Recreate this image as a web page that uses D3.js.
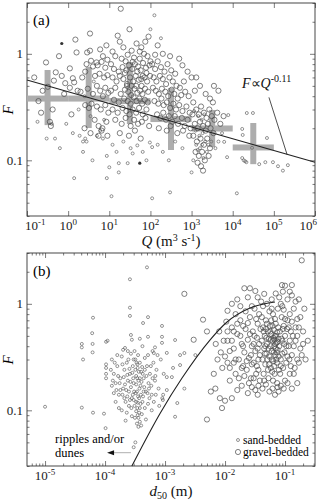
<!DOCTYPE html>
<html>
<head>
<meta charset="utf-8">
<script src="https://cdn.jsdelivr.net/npm/d3@7"></script>
<style>
body { margin: 0; background: #fff; }
svg { display: block; font-family: "Liberation Serif", "Times New Roman", serif; }
</style>
</head>
<body>
<script>
// ---- panel (a) data: [Q (m3/s), F] ----
const gravelA = [
  [0.29,0.83],[0.19,0.36],[0.32,0.49],[0.36,0.23],[0.38,0.21],[0.5,0.67],[0.15,0.6],[0.24,0.45],[0.45,0.56],[0.7,0.62],[0.8,0.42],[0.42,0.3],[0.6,0.95],[0.22,0.28],
  [1.5,1.36],[3.4,1.55],[1.6,1.03],[2.9,1.03],[3.4,1.07],[1.1,0.73],[4,0.76],[4.9,0.83],[1.3,0.59],[1.4,0.54],[0.85,0.53],[1.1,0.48],[1.7,0.45],[2.0,0.44],[2.6,0.33],[3.2,0.31],[3.7,0.34],[2.8,0.8],[3.6,0.86],[5.2,0.78],[6.5,0.84],[8,0.74],[9,0.88],[4.4,0.24],[5.5,0.21],[6.8,0.2],[8.5,0.23],[3,0.47],[4,0.42],[5,0.5],[6,0.45],[7,0.4],[8,0.48],[9.5,0.43],[2.2,0.6],[2.6,0.68],[4.5,0.62],[5.8,0.65],[7.5,0.6],[9,0.63],[6,1.1],[8.5,1.2],[7,0.95],[5,0.32],[6.2,0.3],[8,0.33],[9.5,0.28],[2.5,0.2],[3.5,0.18],[1.2,0.27],[5.5,0.17],[6.5,0.19],[9,0.17],
  [16,1.48],[18,1.3],[31,1.7],[46,1.25],[35,1.07],[19,2.65],[12,1.05],[14,0.95],[20,0.9],[25,0.85],[28,0.98],[40,0.92],[55,0.9],[70,1.0],[85,0.95],[60,1.15],[75,1.3],[90,1.45],[22,1.15],[11,0.8],[13,0.72],[17,0.68],[21,0.75],[26,0.7],[30,0.78],[36,0.72],[42,0.8],[50,0.76],[58,0.7],[66,0.82],[78,0.74],[95,0.78],[12,0.6],[15,0.55],[18,0.62],[22,0.58],[27,0.52],[32,0.6],[38,0.55],[44,0.62],[52,0.57],[61,0.5],[72,0.6],[83,0.55],[98,0.62],[11,0.45],[14,0.48],[19,0.42],[24,0.46],[29,0.44],[34,0.41],[41,0.47],[48,0.43],[56,0.45],[64,0.42],[74,0.47],[88,0.44],[13,0.37],[17,0.35],[23,0.38],[28,0.36],[33,0.34],[39,0.39],[46,0.36],[54,0.38],[63,0.34],[73,0.37],[86,0.35],[12,0.3],[16,0.28],[21,0.31],[26,0.29],[31,0.27],[37,0.3],[45,0.28],[53,0.31],[65,0.27],[80,0.3],[14,0.24],[20,0.22],[25,0.25],[33,0.21],[40,0.24],[50,0.22],[62,0.23],[76,0.25],[93,0.21],[18,0.18],[30,0.17],[42,0.19],[58,0.16],[27,0.5],[35,0.5],[45,0.5],[60,0.58],[24,0.66],[48,0.68],[80,0.66],[65,0.62],[37,0.84],[55,1.05],[100,0.85],
  [110,0.8],[130,0.72],[150,0.85],[180,0.75],[220,0.68],[260,0.8],[320,0.7],[400,0.65],[120,0.6],[140,0.55],[170,0.62],[200,0.58],[240,0.52],[290,0.6],[350,0.55],[430,0.5],[520,0.48],[650,0.55],[115,0.48],[135,0.45],[160,0.42],[190,0.47],[230,0.44],[270,0.4],[330,0.46],[380,0.42],[460,0.38],[560,0.41],[700,0.44],[850,0.4],[125,0.36],[155,0.34],[185,0.38],[210,0.33],[250,0.35],[300,0.31],[360,0.34],[420,0.3],[500,0.33],[600,0.29],[750,0.32],[900,0.28],[145,0.27],[175,0.25],[205,0.28],[240,0.24],[280,0.26],[340,0.23],[390,0.26],[470,0.22],[580,0.25],[680,0.21],[800,0.24],[950,0.2],[160,0.2],[250,0.19],[310,0.21],[450,0.18],[620,0.19],[880,0.17],[200,1.0],[300,0.95],[500,0.9],[150,1.2],[600,0.78],[800,0.68],[1000,0.6],[130,0.98],
  [1100,0.35],[1300,0.3],[1500,0.27],[1700,0.32],[2000,0.28],[2300,0.25],[2700,0.3],[3100,0.26],[1200,0.22],[1400,0.2],[1600,0.23],[1900,0.21],[2200,0.19],[2500,0.22],[2900,0.2],[3400,0.18],[1100,0.17],[1350,0.15],[1650,0.16],[2000,0.14],[2400,0.16],[2800,0.13],[1250,0.12],[1500,0.11],[1800,0.12],[2100,0.1],[1700,0.088],[1400,0.095],[1900,0.08],[2600,0.11],[3600,0.24],[4200,0.28],[5000,0.22],[6000,0.26],[4500,0.45],[3500,0.5],[1200,0.45],[1600,0.5],[2200,0.42],[1300,0.6],[2800,0.38],[1050,0.27],[3300,0.35]
];
const sandA = [
  [0.3,0.16],[0.48,0.16],[0.18,0.23],[0.63,0.13],[0.4,0.22],[1.4,0.068],[1.3,0.18],[1.9,0.17],[2.3,0.15],[2.6,0.16],[2.8,0.15],[3.9,0.1],[2.3,0.12],[5,0.17],[6,0.19],[7,0.16],[8.7,0.11],[8.7,0.068],[10,0.086],[11.3,0.046],[17,0.094],[17,0.077],[28,0.094],[37,0.116],[48,0.138],[110,0.044],[97,0.147],[110,0.133],[125,2.3],[100,1.7],[0.9,0.22],[1.8,0.3],[3.5,0.26],[7.5,0.24],[12,0.14],[15,0.12],[22,0.15],[33,0.13],[65,0.12],[80,0.1],[150,0.14],[200,0.12],[400,0.15],[600,0.13],[280,0.1],[180,1.4],[2.5,0.4],[4.2,0.55],
  [1150,0.29],[1450,0.26],[1750,0.24],[2050,0.27],[1250,0.19],[1550,0.17],[1850,0.18],[2150,0.15],[2550,0.14],[1300,0.14],[1600,0.13],[1950,0.105],[2350,0.12],[1100,0.1],[1400,0.125],[1800,0.14],[3000,0.15],[3800,0.13],[4500,0.15],[5500,0.18],[1000,0.077],
  [7800,0.266],[22000,0.278],[31000,0.278],[17000,0.197],[17500,0.173],[68000,0.162],[6200,0.149],[7300,0.107],[17000,0.105],[18500,0.1],[20000,0.098],[21500,0.096],[44000,0.092],[62000,0.096],[95000,0.096],[126000,0.088],[166000,0.08],[219000,0.09],[29500,0.131],[12600,0.049],[300,0.05]
];
const darkA = [[0.7,1.25],[55,0.094]];

// binned means (grey crosses)
const binLo = [0.1, 1, 10, 100, 1000, 10000];
const binHi = [1, 10, 100, 1000, 10000, 100000];
const binF = [0.38, 0.38, 0.36, 0.244, 0.199, 0.132];
const binFlo = [0.214, 0.201, 0.219, 0.125, 0.133, 0.092];
const binFhi = [0.705, 0.752, 0.838, 0.477, 0.297, 0.224];

// power-law fit F ~ Q^-0.11
const fitQ = [0.1, 1e6];
const fitF = [0.568, 0.096];
const leaderQ = [7.6e4, 2.1e5];
const leaderF = [0.39, 0.113];

// ---- panel (b) data: [d50 (m), F] ----
const sandB = [
  [1e-5,0.108],[4.1e-5,0.106],[6.3e-5,0.095],[9.6e-5,0.093],[1.02e-4,0.068],[6.3e-5,0.74],[6.1e-5,0.53],[4.1e-5,0.42],[4.1e-5,0.39],[4.3e-5,0.30],[6.2e-5,0.42],[6.2e-5,0.35],[1.04e-4,0.44],[1.1e-4,0.45],[1.04e-4,0.27],[1.04e-4,0.25],[1.04e-4,0.22],[1.04e-4,0.2],[2.6e-4,1.7],[5e-4,2.2],[2.6e-4,0.92],[2.6e-4,0.77],[2.15e-4,0.385],[2.7e-4,0.51],[2.8e-4,0.46],[3.8e-4,0.47],[4.3e-4,0.66],[5.2e-4,0.75],[6.8e-4,0.39],[6.5e-4,0.345],[5.2e-4,0.49],[3.2e-4,0.05],[3.0e-4,0.045],
  [1.3e-4,0.3],[1.4e-4,0.22],[1.5e-4,0.18],[1.6e-4,0.26],[1.7e-4,0.14],[1.8e-4,0.2],[1.9e-4,0.32],[2.0e-4,0.16],[2.1e-4,0.24],[2.2e-4,0.12],[2.3e-4,0.28],[2.4e-4,0.19],[2.5e-4,0.15],[2.6e-4,0.22],[2.7e-4,0.34],[2.8e-4,0.13],[2.9e-4,0.26],[3.0e-4,0.18],[3.1e-4,0.11],[3.2e-4,0.3],[3.3e-4,0.21],[3.4e-4,0.15],[3.5e-4,0.25],[3.6e-4,0.19],[3.7e-4,0.13],[3.8e-4,0.28],[3.9e-4,0.17],[4.0e-4,0.23],[4.2e-4,0.12],[4.4e-4,0.2],[4.6e-4,0.31],[4.8e-4,0.15],[5.0e-4,0.26],[5.3e-4,0.18],[5.6e-4,0.22],[6.0e-4,0.14],[6.4e-4,0.28],[6.8e-4,0.19],[7.2e-4,0.24],[7.8e-4,0.16],[8.5e-4,0.3],
  [1.5e-4,0.12],[1.9e-4,0.1],[2.3e-4,0.095],[2.8e-4,0.088],[3.3e-4,0.098],[3.6e-4,0.085],[3.8e-4,0.078],[4.1e-4,0.092],[4.6e-4,0.105],[5.2e-4,0.115],[6e-4,0.1],[2.5e-4,0.11],[2.1e-4,0.13],[1.7e-4,0.105],[1.4e-4,0.145],[3.0e-4,0.125],[3.5e-4,0.118],[4.3e-4,0.135],[5.5e-4,0.13],[6.5e-4,0.12],[1.3e-4,0.17],[1.55e-4,0.155],[2.15e-4,0.175],[2.7e-4,0.165],[3.25e-4,0.145],[3.75e-4,0.16],[4.5e-4,0.165],[5.1e-4,0.145],[5.9e-4,0.17],[7.0e-4,0.14],[1.25e-4,0.24],[1.65e-4,0.21],[1.95e-4,0.27],[2.35e-4,0.215],[2.95e-4,0.2],[3.45e-4,0.27],[4.15e-4,0.255],[4.9e-4,0.21],[5.8e-4,0.26],[6.9e-4,0.21],[2.0e-4,0.37],[2.4e-4,0.36],[3.1e-4,0.36],[4.2e-4,0.4],[5.2e-4,0.33],[6.2e-4,0.36],[1.6e-4,0.33],[1.8e-4,0.155],[2.6e-4,0.125],[3.15e-4,0.085],[3.4e-4,0.075],[3.6e-4,0.07],[2.2e-4,0.08],[4.0e-4,0.072],[4.8e-4,0.082],[3.8e-4,0.105],[2.9e-4,0.14],[2.45e-4,0.3],[3.55e-4,0.33],[1.45e-4,0.28],[1.35e-4,0.19],[7.5e-4,0.33],[8e-4,0.11],[9e-4,0.13],[9.5e-4,0.22],
  [2.05e-4,0.205],[2.25e-4,0.155],[2.55e-4,0.245],[2.65e-4,0.185],[2.85e-4,0.225],[3.05e-4,0.15],[3.2e-4,0.24],[3.3e-4,0.175],[3.45e-4,0.2],[3.55e-4,0.135],[3.65e-4,0.23],[3.8e-4,0.2],[3.95e-4,0.14],[4.05e-4,0.185],[4.25e-4,0.22],[4.4e-4,0.15],[3.3e-4,0.12],[3.45e-4,0.105],[3.5e-4,0.09],[3.7e-4,0.095],[3.9e-4,0.115],[2.75e-4,0.105],[2.35e-4,0.135],[1.95e-4,0.14],[1.75e-4,0.18],[3.0e-4,0.3],[3.35e-4,0.28],[4.6e-4,0.24],[5.4e-4,0.16],[6.2e-4,0.2],
  [1.47e-3,0.457],[1.07e-3,0.346],[8.9e-4,0.43],[8.9e-4,0.49],[1.78e-3,0.33],[2.1e-3,0.345],[3.2e-3,0.33],[1.36e-3,0.25],[1.78e-3,0.266],[1.07e-3,0.205],[1.3e-3,0.205],[1.07e-3,0.155],[1.6e-3,0.117],[1.47e-3,0.087],[9.3e-4,0.14],[9.2e-4,0.125],[2.1e-3,0.16],[8.9e-4,0.62]
];
const gravelB = [
  [0.19,2.56],[2.1e-3,1.24],[4.3e-3,0.71],[5e-3,0.55],[3e-3,0.46],[0.011,0.86],[0.013,1.0],[0.021,1.4],[0.026,1.4],[0.032,1.32],[0.089,1.5],[0.1,1.48],[0.13,1.5],[0.092,1.3],[0.04,1.05],[0.045,1.24],[0.05,1.0],[5e-3,0.082],[8.9e-3,0.105],
  [0.010,0.32],[0.011,0.45],[0.012,0.25],[0.013,0.6],[0.014,0.38],[0.015,0.22],[0.016,0.52],[0.017,0.3],[0.018,0.7],[0.019,0.42],[0.012,0.19],[0.015,0.8],[0.02,0.26],[0.011,0.55],[0.017,0.2],[0.014,0.28],[0.0105,0.68],[0.0085,0.35],[0.009,0.25],[0.0075,0.3],[0.0065,0.22],[0.007,0.42],[0.008,0.55],
  [0.021,0.35],[0.022,0.58],[0.023,0.24],[0.024,0.46],[0.025,0.31],[0.026,0.75],[0.027,0.2],[0.028,0.4],[0.029,0.55],[0.03,0.28],[0.031,0.9],[0.032,0.36],[0.033,0.22],[0.034,0.48],[0.035,0.65],[0.036,0.3],[0.037,0.42],[0.038,0.19],[0.039,0.58],[0.022,0.85],[0.025,0.18],[0.028,0.27],[0.031,0.5],[0.034,0.26],[0.037,0.8],[0.024,0.66],[0.033,0.72],[0.026,0.52],[0.03,0.42],[0.036,0.24],[0.021,0.21],[0.023,0.29],[0.027,0.33],[0.035,0.38],[0.038,0.33],
  [0.041,0.45],[0.042,0.3],[0.043,0.6],[0.044,0.22],[0.045,0.38],[0.046,0.5],[0.047,0.27],[0.048,0.7],[0.049,0.34],[0.05,0.42],[0.052,0.55],[0.053,0.2],[0.054,0.47],[0.055,0.32],[0.056,0.62],[0.057,0.4],[0.058,0.25],[0.059,0.52],[0.06,0.36],[0.062,0.45],[0.063,0.8],[0.064,0.29],[0.065,0.57],[0.066,0.4],[0.067,0.22],[0.068,0.5],[0.069,0.33],[0.07,0.65],[0.072,0.43],[0.073,0.28],[0.074,0.54],[0.075,0.37],[0.076,0.9],[0.078,0.47],[0.079,0.24],[0.041,0.75],[0.043,0.95],[0.047,0.4],[0.051,0.3],[0.055,0.85],[0.058,0.46],[0.061,0.23],[0.065,0.35],[0.068,0.72],[0.071,0.5],[0.074,0.18],[0.077,0.6],[0.044,0.55],[0.049,0.48],[0.053,0.38],[0.057,0.55],[0.06,0.3],[0.064,0.48],[0.069,0.42],[0.072,0.3],[0.046,0.34],[0.05,0.65],[0.054,0.27],[0.062,0.62],[0.066,0.26],[0.07,0.38],[0.075,0.44],[0.078,0.32],[0.045,0.19],[0.052,0.24],[0.063,0.19],[0.048,0.58],[0.059,0.7],[0.067,0.46],[0.073,0.35],
  [0.08,0.4],[0.082,0.55],[0.085,0.3],[0.088,0.75],[0.09,0.45],[0.093,0.25],[0.095,0.62],[0.098,0.35],[0.1,0.5],[0.105,0.28],[0.11,0.7],[0.115,0.4],[0.12,0.22],[0.125,0.55],[0.13,0.33],[0.14,0.9],[0.15,0.45],[0.16,0.3],[0.17,0.6],[0.18,0.38],[0.085,1.0],[0.095,0.88],[0.11,1.1],[0.12,0.8],[0.135,0.5],[0.083,0.22],[0.09,0.34],[0.1,0.19],[0.108,0.58],[0.118,0.3],[0.145,0.25],[0.16,0.72],[0.2,0.42],[0.087,0.47],[0.097,0.42],[0.13,1.2],[0.15,1.05],
  [0.085,0.26],[0.092,0.58],[0.1,0.72],[0.105,0.4],[0.11,0.32],[0.115,0.6],[0.12,0.45],[0.125,0.26],[0.13,0.68],[0.14,0.4],[0.14,0.22],[0.15,0.6],[0.16,0.5],[0.17,0.28],[0.18,0.75],[0.19,0.33],[0.2,0.55],[0.21,0.9],[0.22,0.3],[0.24,0.45],[0.16,0.18],[0.11,0.18],[0.095,0.16],[0.13,0.16],
  [0.012,0.36],[0.013,0.45],[0.015,0.3],[0.016,0.65],[0.018,0.5],[0.019,0.25],[0.02,0.62],[0.0095,0.45],[0.011,0.28],[0.014,0.55],[0.02,0.4],[0.018,0.95],[0.016,1.1],[0.024,1.15],[0.028,0.95],[0.035,1.15],[0.06,1.1],[0.07,1.25],[0.08,1.15],[0.12,1.3],[0.17,1.1],[0.06,0.9],[0.09,0.95],
  [0.01,0.123],[0.013,0.13],[0.016,0.155],[0.019,0.17],[0.024,0.145],[0.028,0.165],[0.032,0.155],[0.036,0.17],[0.042,0.16],[0.048,0.175],[0.055,0.15],[0.062,0.16],[0.068,0.14],[0.075,0.165],[0.085,0.17],[0.0058,0.15],[0.0069,0.16],[0.0082,0.13],[0.03,0.2],[0.035,0.14],[0.078,0.15]
];

// bedform regime boundary
const curveD = [2.8e-4, 8.3e-4, 1.92e-3, 5.6e-3, 0.0108, 0.0261, 0.068];
const curveF = [0.030, 0.094, 0.201, 0.457, 0.675, 0.913, 1.04];
const arrowD = [2.7e-4, 1.08e-4];
const arrowF = 0.04;

const xTicksA = [-1, 0, 1, 2, 3, 4, 5, 6];
const xTicksB = [-5, -4, -3, -2, -1];
const yTicks = [0.1, 1];
const yLabels = ['0.1', '1'];

const width = 320, height = 504;
const left = 27, right = 315;

const svg = d3.select('body').append('svg')
    .attr('width', width)
    .attr('height', height);

const xA = d3.scaleLog().domain([0.1, 1e6]).range([left, right]);
const yA = d3.scaleLog().domain([0.03, 3]).range([216, 3]);
const xB = d3.scaleLog().domain([5e-6, 0.316]).range([left, right]);
const yB = d3.scaleLog().domain([0.03, 3]).range([466, 253]);

function minors(domain) {
  const out = [];
  const lo = Math.floor(Math.log10(domain[0])), hi = Math.ceil(Math.log10(domain[1]));
  for (let e = lo; e < hi; e++) {
    for (let m = 2; m <= 9; m++) {
      const v = m * Math.pow(10, e);
      if (v >= domain[0] && v <= domain[1]) out.push(v);
    }
  }
  return out;
}

function drawFrame(x, y, xExp, xMinor) {
  const [x0, x1] = x.range();
  const [yb, yt] = y.range();
  const g = svg.append('g');
  const noDomain = s => s.select('.domain').remove();
  const majX = xExp.map(e => Math.pow(10, e));

  g.append('g').attr('transform', `translate(0,${yb})`)
    .call(d3.axisBottom(x).tickValues(majX).tickSize(-5).tickFormat('')).call(noDomain);
  g.append('g').attr('transform', `translate(0,${yt})`)
    .call(d3.axisTop(x).tickValues(majX).tickSize(-5).tickFormat('')).call(noDomain);
  if (xMinor) {
    g.append('g').attr('transform', `translate(0,${yb})`)
      .call(d3.axisBottom(x).tickValues(minors(x.domain())).tickSize(-2.5).tickFormat('')).call(noDomain);
    g.append('g').attr('transform', `translate(0,${yt})`)
      .call(d3.axisTop(x).tickValues(minors(x.domain())).tickSize(-2.5).tickFormat('')).call(noDomain);
  }
  g.append('g').attr('transform', `translate(${x0},0)`)
    .call(d3.axisLeft(y).tickValues(yTicks).tickSize(-5).tickFormat('')).call(noDomain);
  g.append('g').attr('transform', `translate(${x1},0)`)
    .call(d3.axisRight(y).tickValues(yTicks).tickSize(-5).tickFormat('')).call(noDomain);
  g.append('g').attr('transform', `translate(${x0},0)`)
    .call(d3.axisLeft(y).tickValues(minors(y.domain())).tickSize(-2.5).tickFormat('')).call(noDomain);
  g.append('g').attr('transform', `translate(${x1},0)`)
    .call(d3.axisRight(y).tickValues(minors(y.domain())).tickSize(-2.5).tickFormat('')).call(noDomain);
  g.selectAll('line').attr('stroke', '#444').attr('stroke-width', 0.7);

  g.append('rect')
    .attr('x', x0).attr('y', yt)
    .attr('width', x1 - x0).attr('height', yb - yt)
    .attr('fill', 'none').attr('stroke', '#333').attr('stroke-width', 0.9);

  // tick labels: whole "10^e" centred on its tick, kept inside the page
  xExp.forEach(e => {
    const t = g.append('text')
      .attr('y', yb + 14)
      .attr('font-size', 13)
      .attr('fill', '#222');
    t.append('tspan').text('10');
    t.append('tspan').attr('dy', -5).attr('font-size', 9).text(e);
    const w = t.node().getComputedTextLength();
    let tx = x(Math.pow(10, e)) - w / 2;
    tx = Math.max(25, Math.min(width - 3 - w, tx));
    t.attr('x', tx);
  });
  yTicks.forEach((v, i) => {
    g.append('text')
      .attr('x', x0 - 4)
      .attr('y', y(v) + 4.5)
      .attr('text-anchor', 'end')
      .attr('font-size', 13)
      .attr('fill', '#222')
      .text(yLabels[i]);
  });
  g.append('text')
    .attr('transform', `translate(13,${(yb + yt) / 2 + 0.5}) rotate(-90)`)
    .attr('text-anchor', 'middle')
    .attr('font-size', 15)
    .attr('font-style', 'italic')
    .text('F');
  return g;
}

// ---------- panel (a) ----------
drawFrame(xA, yA, xTicksA, false);

const crosses = svg.append('g').attr('fill', '#adadad');
binLo.forEach((lo, i) => {
  const xm = xA(Math.sqrt(lo * binHi[i]));
  crosses.append('rect')
    .attr('x', xA(lo)).attr('width', xA(binHi[i]) - xA(lo))
    .attr('y', yA(binF[i]) - 3).attr('height', 6);
  crosses.append('rect')
    .attr('x', xm - 3).attr('width', 6)
    .attr('y', yA(binFhi[i])).attr('height', yA(binFlo[i]) - yA(binFhi[i]));
});

svg.append('g').selectAll('circle')
  .data(sandA).join('circle')
  .attr('cx', d => xA(d[0])).attr('cy', d => yA(d[1]))
  .attr('r', 1.5).attr('fill', 'none').attr('stroke', '#666').attr('stroke-width', 0.7);
svg.append('g').selectAll('circle')
  .data(gravelA).join('circle')
  .attr('cx', d => xA(d[0])).attr('cy', d => yA(d[1]))
  .attr('r', 2.6).attr('fill', 'none').attr('stroke', '#4a4a4a').attr('stroke-width', 0.7);
svg.append('g').selectAll('circle')
  .data(darkA).join('circle')
  .attr('cx', d => xA(d[0])).attr('cy', d => yA(d[1]))
  .attr('r', 1.6).attr('fill', '#333');

const lineA = d3.line().x(d => xA(d[0])).y(d => yA(d[1]));
svg.append('path')
  .attr('d', lineA(fitQ.map((q, i) => [q, fitF[i]])))
  .attr('stroke', '#222').attr('stroke-width', 1.1).attr('fill', 'none');
svg.append('path')
  .attr('d', lineA(leaderQ.map((q, i) => [q, leaderF[i]])))
  .attr('stroke', '#222').attr('stroke-width', 0.8).attr('fill', 'none');

const ann = svg.append('text').attr('x', 242).attr('y', 88).attr('font-size', 14).attr('fill', '#111');
ann.append('tspan').attr('font-style', 'italic').text('F');
ann.append('tspan').text('\u221D');
ann.append('tspan').attr('font-style', 'italic').text('Q');
ann.append('tspan').attr('dy', -6).attr('font-size', 10).text('-0.11');

svg.append('text').attr('x', 33).attr('y', 25).attr('font-size', 15).text('(a)');

const tA = svg.append('text').attr('x', 171).attr('y', 246)
  .attr('text-anchor', 'middle').attr('font-size', 15).attr('fill', '#111');
tA.append('tspan').attr('font-style', 'italic').text('Q');
tA.append('tspan').text(' (m');
tA.append('tspan').attr('dy', -5).attr('font-size', 10).text('3');
tA.append('tspan').attr('dy', 5).text(' s');
tA.append('tspan').attr('dy', -5).attr('font-size', 10).text('-1');
tA.append('tspan').attr('dy', 5).text(')');

// ---------- panel (b) ----------
drawFrame(xB, yB, xTicksB, true);

svg.append('g').selectAll('circle')
  .data(sandB).join('circle')
  .attr('cx', d => xB(d[0])).attr('cy', d => yB(d[1]))
  .attr('r', 1.5).attr('fill', 'none').attr('stroke', '#666').attr('stroke-width', 0.7);
svg.append('g').selectAll('circle')
  .data(gravelB).join('circle')
  .attr('cx', d => xB(d[0])).attr('cy', d => yB(d[1]))
  .attr('r', 2.6).attr('fill', 'none').attr('stroke', '#4a4a4a').attr('stroke-width', 0.7);

const curve = d3.line().x(d => xB(d[0])).y(d => yB(d[1])).curve(d3.curveMonotoneX);
svg.append('path')
  .attr('d', curve(curveD.map((d, i) => [d, curveF[i]])))
  .attr('stroke', '#222').attr('stroke-width', 1.1).attr('fill', 'none');

// arrow to ripples/dunes field
svg.append('line')
  .attr('x1', xB(arrowD[0])).attr('x2', xB(arrowD[1]) + 6)
  .attr('y1', yB(arrowF)).attr('y2', yB(arrowF))
  .attr('stroke', '#999').attr('stroke-width', 0.8);
const ax = xB(arrowD[1]), ay = yB(arrowF);
svg.append('path')
  .attr('d', `M${ax},${ay} L${ax + 7},${ay - 2.5} L${ax + 7},${ay + 2.5} Z`)
  .attr('fill', '#111');

svg.append('text').attr('x', 55).attr('y', 443).attr('font-size', 12.5).text('ripples and/or');
svg.append('text').attr('x', 55).attr('y', 457).attr('font-size', 12.5).text('dunes');

// legend
svg.append('circle').attr('cx', 238).attr('cy', 440).attr('r', 1.5)
  .attr('fill', 'none').attr('stroke', '#666').attr('stroke-width', 0.7);
svg.append('text').attr('x', 243).attr('y', 444).attr('font-size', 11.5).text('sand-bedded');
svg.append('circle').attr('cx', 238).attr('cy', 452).attr('r', 2.6)
  .attr('fill', 'none').attr('stroke', '#4a4a4a').attr('stroke-width', 0.7);
svg.append('text').attr('x', 243).attr('y', 456).attr('font-size', 11.5).text('gravel-bedded');

svg.append('text').attr('x', 33).attr('y', 276).attr('font-size', 15).text('(b)');

const tB = svg.append('text').attr('x', 171).attr('y', 496)
  .attr('text-anchor', 'middle').attr('font-size', 15).attr('fill', '#111');
tB.append('tspan').attr('font-style', 'italic').text('d');
tB.append('tspan').attr('dy', 3).attr('font-size', 10).text('50');
tB.append('tspan').attr('dy', -3).text(' (m)');
</script>
</body>
</html>
